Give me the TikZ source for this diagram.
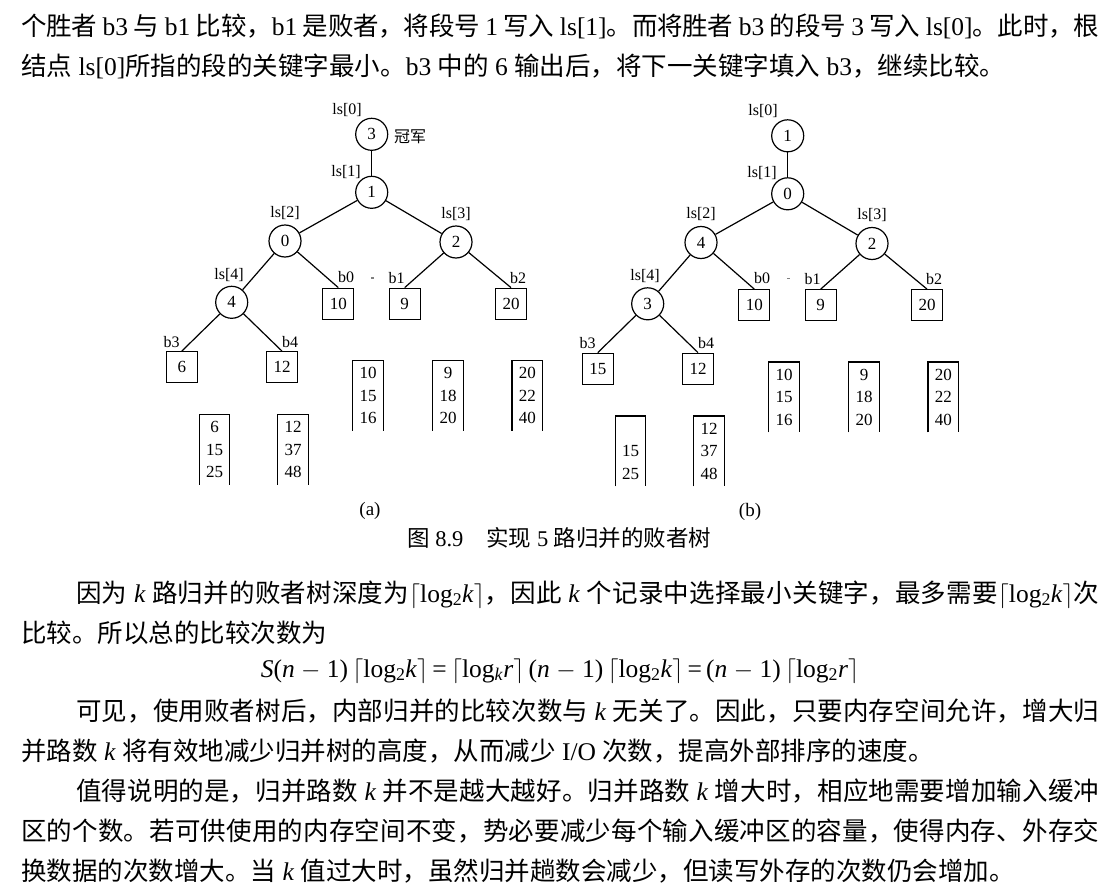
\documentclass[tikz,border=0pt]{standalone}
\usepackage{fontspec}
\setmainfont{Liberation Serif}
\newfontfamily\cjk{Noto Sans CJK SC}
\XeTeXinterchartokenstate=1
\newcount\tmpc
\tmpc="3000 \loop \XeTeXcharclass\tmpc=7 \advance\tmpc by 1 \ifnum\tmpc<"3040 \repeat
\tmpc="4E00 \loop \XeTeXcharclass\tmpc=7 \advance\tmpc by 1 \ifnum\tmpc<"A000 \repeat
\tmpc="FF00 \loop \XeTeXcharclass\tmpc=7 \advance\tmpc by 1 \ifnum\tmpc<"FFF0 \repeat
\XeTeXinterchartoks 0 7 = {\cjk}
\XeTeXinterchartoks 4095 7 = {\cjk}
\XeTeXinterchartoks 7 0 = {\rmfamily}
\XeTeXinterchartoks 7 4095 = {\rmfamily}
\XeTeXinterchartoks 7 7 = {\hskip 0pt plus 3pt minus 0.6pt\relax}
\newcommand\lc{$\lceil$}
\newcommand\rc{$\rceil$}
\tikzset{
 circ/.style={circle,draw,line width=1.2pt,minimum size=32pt,inner sep=0pt,font=\fontsize{17}{17}\selectfont},
 sbox/.style={rectangle,draw,line width=1.2pt,minimum size=31pt,inner sep=0pt,font=\fontsize{17}{17}\selectfont},
 lbl/.style={inner sep=0pt,font=\fontsize{16}{16}\selectfont},
 buf/.style={inner sep=0pt,minimum width=30pt,minimum height=70pt,align=center,font=\fontsize{17}{22.5}\selectfont},
 edge/.style={line width=1.2pt},
 bufline/.style={line width=1.3pt},
 body/.style={inner sep=0pt,anchor=base west,font=\fontsize{25.5}{30}\selectfont},
 sublbl/.style={inner sep=0pt,font=\fontsize{19}{19}\selectfont},
 speck/.style={line width=1.4pt,gray},
}
\begin{document}
\begin{tikzpicture}[x=1pt,y=-1pt]
\fill[white] (0,0) rectangle (1120,894);
\useasboundingbox (0,0) rectangle (1120,894);

% ---------- text above ----------
\node[body] (t1) at (21,35) {\hbox to 1078pt{个胜者 b3 与 b1 比较，b1 是败者，将段号 1 写入 ls[1]。而将胜者 b3 的段号 3 写入 ls[0]。此时，根}};
\node[body] (t2) at (21,75) {结点 ls[0]所指的段的关键字最小。b3 中的 6 输出后，将下一关键字填入 b3，继续比较。};

% ---------- tree (a) ----------
\node[lbl] (al0) at (347,110) {ls[0]};
\node[circ] (ar0) at (371.7,134.3) {3};
\node[lbl] (agj) at (410,137) {冠军};
\node[lbl] (al1) at (346,172) {ls[1]};
\node[circ] (ar1) at (371.7,192.3) {1};
\node[lbl] (al2) at (285,213) {ls[2]};
\node[circ] (an2) at (285,241) {0};
\node[lbl] (al3) at (456,214) {ls[3]};
\node[circ] (an3) at (456,242) {2};
\node[lbl] (al4) at (229,275) {ls[4]};
\node[circ] (an4) at (231.7,302.3) {4};
\node[lbl] (alb0) at (346,277) {b0};
\node[sbox] (ab0) at (338.3,303.7) {10};
\node[lbl] (alb1) at (396.7,277.7) {b1};
\node[sbox] (ab1) at (404.7,303.7) {9};
\node[lbl] (alb2) at (518,277.7) {b2};
\node[sbox] (ab2) at (511,303.7) {20};
\node[lbl] (alb3) at (171.7,341.7) {b3};
\node[sbox] (ab3) at (181.8,367.2) {6};
\node[lbl] (alb4) at (290,341.7) {b4};
\node[sbox] (ab4) at (282,367.2) {12};
\coordinate (ads1) at (371.3,278);
\coordinate (ads2) at (374.3,278);
\draw[speck] (ads1) -- (ads2);
\draw[edge] (ar0) -- (ar1);
\draw[edge] (ar1) -- (an2);
\draw[edge] (ar1) -- (an3);
\draw[edge] (an2) -- (an4);
\draw[edge] (an2) -- (ab0.north);
\draw[edge] (an3) -- (ab1.north);
\draw[edge] (an3) -- (ab2.north);
\draw[edge] (an4) -- (ab3.north);
\draw[edge] (an4) -- (ab4.north);
\node[buf] (aq0) at (368,395.7) {10\\15\\16};
\node[buf] (aq1) at (448,395.7) {9\\18\\20};
\node[buf] (aq2) at (527.3,395.7) {20\\22\\40};
\node[buf] (aq3) at (214.5,449.7) {6\\15\\25};
\node[buf] (aq4) at (293,449.7) {12\\37\\48};
\foreach \q in {aq0,aq1,aq2,aq3,aq4}
  \draw[bufline] (\q.south west) -- (\q.north west) -- (\q.north east) -- (\q.south east);
\node[sublbl] (acap) at (370,510.7) {(a)};

% ---------- tree (b) ----------
\begin{scope}[shift={(416,1.5)}]
\node[lbl] (bl0) at (347,110) {ls[0]};
\node[circ] (br0) at (371.7,134.3) {1};
\node[lbl] (bl1) at (346,172) {ls[1]};
\node[circ] (br1) at (371.7,192.3) {0};
\node[lbl] (bl2) at (285,213) {ls[2]};
\node[circ] (bn2) at (285,241) {4};
\node[lbl] (bl3) at (456,214) {ls[3]};
\node[circ] (bn3) at (456,242) {2};
\node[lbl] (bl4) at (229,275) {ls[4]};
\node[circ] (bn4) at (231.7,302.3) {3};
\node[lbl] (blb0) at (346,277) {b0};
\node[sbox] (bb0) at (338.3,303.7) {10};
\node[lbl] (blb1) at (396.7,277.7) {b1};
\node[sbox] (bb1) at (404.7,303.7) {9};
\node[lbl] (blb2) at (518,277.7) {b2};
\node[sbox] (bb2) at (511,303.7) {20};
\node[lbl] (blb3) at (171.7,341.7) {b3};
\node[sbox] (bb3) at (181.8,367.2) {15};
\node[lbl] (blb4) at (290,341.7) {b4};
\node[sbox] (bb4) at (282,367.2) {12};
\coordinate (bds1) at (371.3,277);
\coordinate (bds2) at (374.3,277);
\draw[speck] (bds1) -- (bds2);
\draw[edge] (br0) -- (br1);
\draw[edge] (br1) -- (bn2);
\draw[edge] (br1) -- (bn3);
\draw[edge] (bn2) -- (bn4);
\draw[edge] (bn2) -- (bb0.north);
\draw[edge] (bn3) -- (bb1.north);
\draw[edge] (bn3) -- (bb2.north);
\draw[edge] (bn4) -- (bb3.north);
\draw[edge] (bn4) -- (bb4.north);
\node[buf] (bq0) at (368,395.7) {10\\15\\16};
\node[buf] (bq1) at (448,395.7) {9\\18\\20};
\node[buf] (bq2) at (527.3,395.7) {20\\22\\40};
\node[buf] (bq3) at (214.5,449.7) {\vphantom{1}\\15\\25};
\node[buf] (bq4) at (293,449.7) {12\\37\\48};
\foreach \q in {bq0,bq1,bq2,bq3,bq4}
  \draw[bufline] (\q.south west) -- (\q.north west) -- (\q.north east) -- (\q.south east);
\end{scope}
\node[sublbl] (bcap) at (750,511.7) {(b)};

% ---------- caption ----------
\node[body,font=\fontsize{22.5}{26}\selectfont] (fig) at (407,546.5) {图 8.9\hspace{23pt}实现 5 路归并的败者树};

% ---------- text below ----------
\node[body] (t3) at (76,602) {\hbox to 1023pt{因为 \textit{k} 路归并的败者树深度为\lc log\textsubscript{2}\textit{k}\rc，因此 \textit{k} 个记录中选择最小关键字，最多需要\lc log\textsubscript{2}\textit{k}\rc 次}};
\node[body] (t4) at (21,642) {比较。所以总的比较次数为};
\node[body,anchor=base] (eq) at (560,677) {\textit{S}(\textit{n} $-$ 1)\,\lc log\textsubscript{2}\textit{k}\rc\,=\,\lc log\textsubscript{\textit{k}}\textit{r}\rc\,(\textit{n} $-$ 1)\,\lc log\textsubscript{2}\textit{k}\rc\,=\,(\textit{n} $-$ 1)\,\lc log\textsubscript{2}\textit{r}\rc};
\node[body] (t5) at (76,720) {\hbox to 1023pt{可见，使用败者树后，内部归并的比较次数与 \textit{k} 无关了。因此，只要内存空间允许，增大归}};
\node[body] (t6) at (21,760) {并路数 \textit{k} 将有效地减少归并树的高度，从而减少 I/O 次数，提高外部排序的速度。};
\node[body] (t7) at (76,800) {\hbox to 1023pt{值得说明的是，归并路数 \textit{k} 并不是越大越好。归并路数 \textit{k} 增大时，相应地需要增加输入缓冲}};
\node[body] (t8) at (21,840) {\hbox to 1078pt{区的个数。若可供使用的内存空间不变，势必要减少每个输入缓冲区的容量，使得内存、外存交}};
\node[body] (t9) at (21,880) {换数据的次数增大。当 \textit{k} 值过大时，虽然归并趟数会减少，但读写外存的次数仍会增加。};
\end{tikzpicture}
\end{document}
